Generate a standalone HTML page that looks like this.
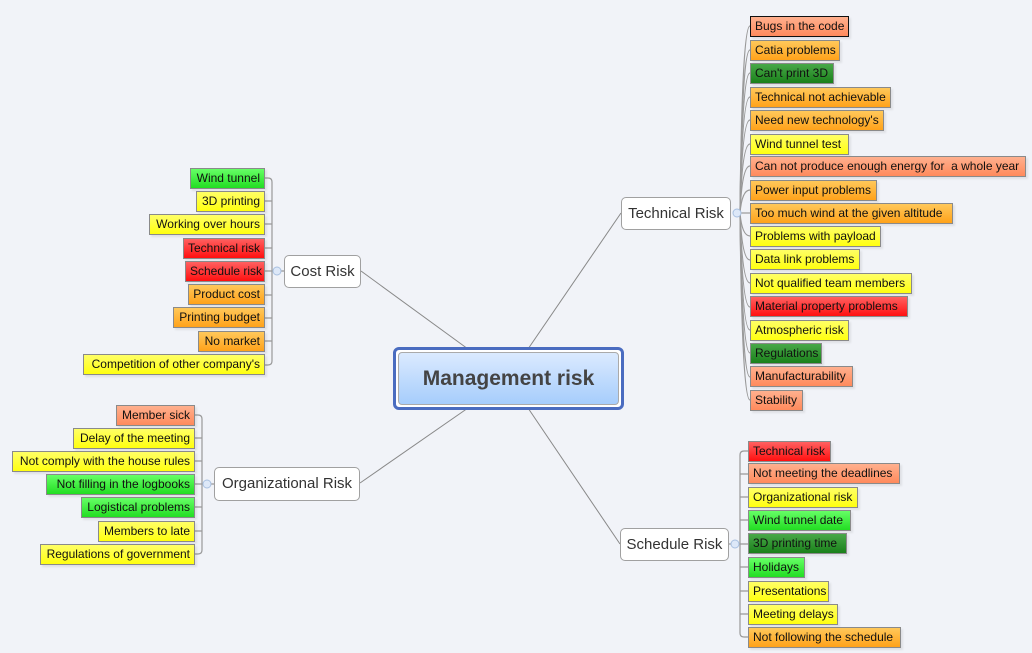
<!DOCTYPE html>
<html><head><meta charset="utf-8"><style>
body{margin:0;width:1032px;height:653px;background:#f1f3f8;position:relative;overflow:hidden;font-family:"Liberation Sans",sans-serif;}
.b{position:absolute;height:21px;line-height:19px;font-size:12px;color:#111;border:1px solid #8a8a8a;box-sizing:border-box;padding:0 4px;white-space:nowrap;box-shadow:2px 2px 2px rgba(0,0,0,0.08);}
.s{background:linear-gradient(#ffb08e,#ff8a5c);}
.o{background:linear-gradient(#ffc85a,#ffa21a);}
.g{background:linear-gradient(#66ff66,#22dd22);}
.d{background:linear-gradient(#48a848,#1a801a);}
.y{background:linear-gradient(#ffff66,#ffff10);}
.r{background:linear-gradient(#ff6060,#ff1010);}
.rt{text-align:right;}
.n{position:absolute;background:#fff;border:1px solid #a0a0a0;border-radius:5px;box-sizing:border-box;font-size:15px;color:#333;text-align:center;}
</style></head><body>
<svg width="1032" height="653" style="position:absolute;left:0;top:0" fill="none">
<g stroke="#888" stroke-width="1">
<line x1="528" y1="349" x2="621" y2="213"/>
<line x1="468" y1="349" x2="361" y2="271"/>
<line x1="468" y1="408" x2="360" y2="483"/>
<line x1="528" y1="408" x2="620" y2="544"/>
</g>
<g stroke="#999" stroke-width="1.2">
<path d="M740 213 Q742 26 750 26"/><path d="M740 213 Q742 50 750 50"/><path d="M740 213 Q742 73 750 73"/><path d="M740 213 Q742 97 750 97"/><path d="M740 213 Q742 120 750 120"/><path d="M740 213 Q742 144 750 144"/><path d="M740 213 Q742 166 750 166"/><path d="M740 213 Q742 190 750 190"/><path d="M740 213 L750 213"/><path d="M740 213 Q742 236 750 236"/><path d="M740 213 Q742 260 750 260"/><path d="M740 213 Q742 283 750 283"/><path d="M740 213 Q742 307 750 307"/><path d="M740 213 Q742 330 750 330"/><path d="M740 213 Q742 353 750 353"/><path d="M740 213 Q742 377 750 377"/><path d="M740 213 Q742 400 750 400"/>
<path d="M264 178 H268 Q272 178 272 182 V361 Q272 365 268 365 H264"/>
<path d="M264 201 H272 M264 224 H272 M264 248 H272 M264 271 H284 M264 295 H272 M264 318 H272 M264 341 H272"/>
<path d="M194 415 H198 Q202 415 202 419 V550 Q202 554 198 554 H194"/>
<path d="M194 438 H202 M194 461 H202 M194 484 H214 M194 507 H202 M194 531 H202"/>
<path d="M748 451 H744 Q740 451 740 455 V633 Q740 637 744 637 H748"/>
<path d="M740 474 H748 M740 497 H748 M729 544 H748 M740 520 H748 M740 567 H748 M740 591 H748 M740 614 H748"/>
</g>
<g fill="#dde8f8" stroke="#a8c0e0"><circle cx="737" cy="213" r="4"/><circle cx="277" cy="271" r="4"/><circle cx="207" cy="484" r="4"/><circle cx="735" cy="544" r="4"/></g>
</svg>
<div style="position:absolute;left:393px;top:347px;width:231px;height:63px;border:3px solid #4a6cc0;border-radius:6px;box-sizing:border-box;background:#fff;">
<div style="position:absolute;left:2px;top:2px;right:2px;bottom:2px;border:1px solid #aaa;border-radius:4px;background:linear-gradient(#dbeafe,#a6cdfc);text-align:center;line-height:51px;font-weight:bold;font-size:21px;color:#444;">Management risk</div></div>
<div class="n" style="left:621px;top:197px;width:110px;height:33px;line-height:31px;">Technical Risk</div>
<div class="n" style="left:284px;top:255px;width:77px;height:33px;line-height:31px;">Cost Risk</div>
<div class="n" style="left:214px;top:467px;width:146px;height:34px;line-height:32px;">Organizational Risk</div>
<div class="n" style="left:620px;top:528px;width:109px;height:33px;line-height:31px;">Schedule Risk</div>

<div class="b s" style="left:750px;top:16px;width:99px;border-color:#111">Bugs in the code</div>
<div class="b o" style="left:750px;top:40px;width:90px">Catia problems</div>
<div class="b d" style="left:750px;top:63px;width:84px">Can't print 3D</div>
<div class="b o" style="left:750px;top:87px;width:141px">Technical not achievable</div>
<div class="b o" style="left:750px;top:110px;width:134px">Need new technology's</div>
<div class="b y" style="left:750px;top:134px;width:99px">Wind tunnel test</div>
<div class="b s" style="left:750px;top:156px;width:276px">Can not produce enough energy for&nbsp; a whole year</div>
<div class="b o" style="left:750px;top:180px;width:127px">Power input problems</div>
<div class="b o" style="left:750px;top:203px;width:203px">Too much wind at the given altitude</div>
<div class="b y" style="left:750px;top:226px;width:131px">Problems with payload</div>
<div class="b y" style="left:750px;top:249px;width:110px">Data link problems</div>
<div class="b y" style="left:750px;top:273px;width:162px">Not qualified team members</div>
<div class="b r" style="left:750px;top:296px;width:158px">Material property problems</div>
<div class="b y" style="left:750px;top:320px;width:99px">Atmospheric risk</div>
<div class="b d" style="left:750px;top:343px;width:72px">Regulations</div>
<div class="b s" style="left:750px;top:366px;width:103px">Manufacturability</div>
<div class="b s" style="left:750px;top:390px;width:53px">Stability</div>

<div class="b g rt" style="left:190px;top:168px;width:75px">Wind tunnel</div>
<div class="b y rt" style="left:196px;top:191px;width:69px">3D printing</div>
<div class="b y rt" style="left:149px;top:214px;width:116px">Working over hours</div>
<div class="b r rt" style="left:183px;top:238px;width:82px">Technical risk</div>
<div class="b r rt" style="left:185px;top:261px;width:80px">Schedule risk</div>
<div class="b o rt" style="left:188px;top:284px;width:77px">Product cost</div>
<div class="b o rt" style="left:173px;top:307px;width:92px">Printing budget</div>
<div class="b o rt" style="left:198px;top:331px;width:67px">No market</div>
<div class="b y rt" style="left:83px;top:354px;width:182px">Competition of other company's</div>

<div class="b s rt" style="left:116px;top:405px;width:79px">Member sick</div>
<div class="b y rt" style="left:73px;top:428px;width:122px">Delay of the meeting</div>
<div class="b y rt" style="left:12px;top:451px;width:183px">Not comply with the house rules</div>
<div class="b g rt" style="left:46px;top:474px;width:149px">Not filling in the logbooks</div>
<div class="b g rt" style="left:81px;top:497px;width:114px">Logistical problems</div>
<div class="b y rt" style="left:98px;top:521px;width:97px">Members to late</div>
<div class="b y rt" style="left:40px;top:544px;width:155px">Regulations of government</div>

<div class="b r" style="left:748px;top:441px;width:83px">Technical risk</div>
<div class="b s" style="left:748px;top:463px;width:152px">Not meeting the deadlines</div>
<div class="b y" style="left:748px;top:487px;width:110px">Organizational risk</div>
<div class="b g" style="left:748px;top:510px;width:103px">Wind tunnel date</div>
<div class="b d" style="left:748px;top:533px;width:99px">3D printing time</div>
<div class="b g" style="left:748px;top:557px;width:57px">Holidays</div>
<div class="b y" style="left:748px;top:581px;width:81px">Presentations</div>
<div class="b y" style="left:748px;top:604px;width:90px">Meeting delays</div>
<div class="b o" style="left:748px;top:627px;width:153px">Not following the schedule</div>
</body></html>
